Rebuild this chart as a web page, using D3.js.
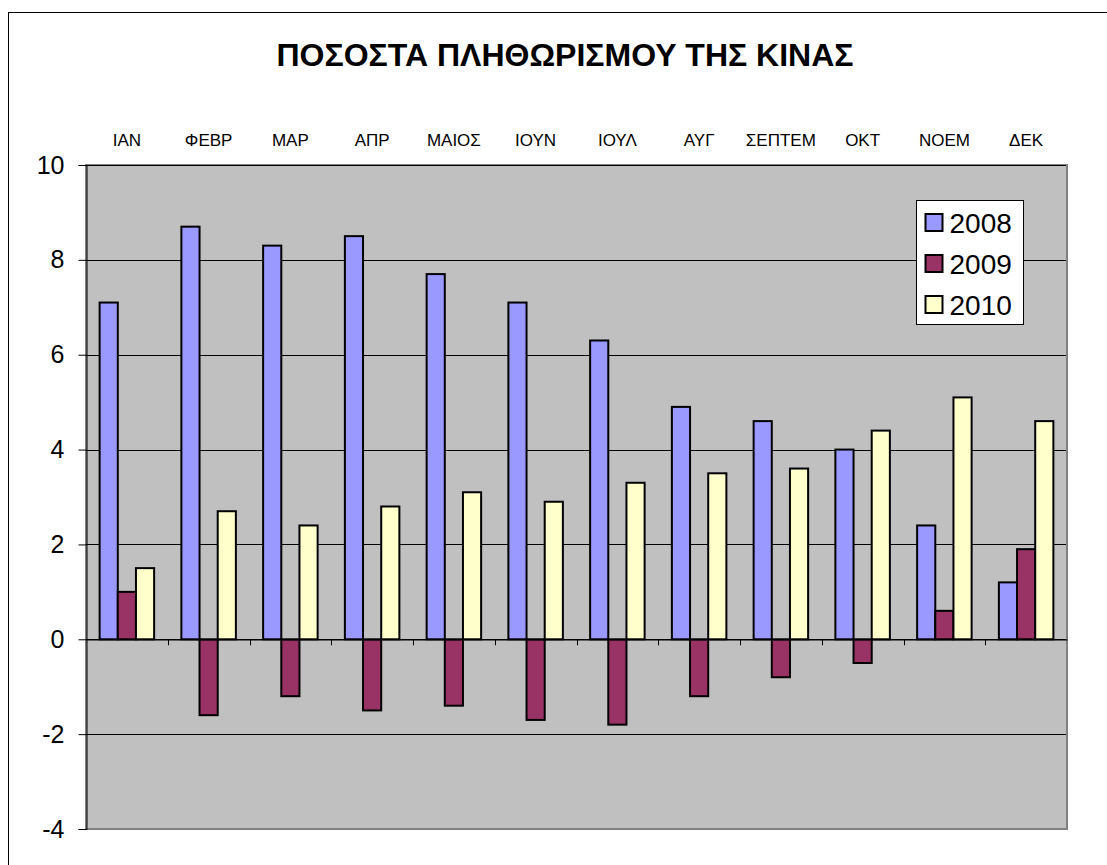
<!DOCTYPE html>
<html>
<head>
<meta charset="utf-8">
<script src="https://cdn.jsdelivr.net/npm/d3@7"></script>
<style>
body{margin:0;background:#fff;}
svg{display:block;font-family:Arial,"Liberation Sans",sans-serif;}
</style>
</head>
<body>
<svg width="1107" height="865"></svg>
<script>
var months = ['ΙΑΝ','ΦΕΒΡ','ΜΑΡ','ΑΠΡ','ΜΑΙΟΣ','ΙΟΥΝ','ΙΟΥΛ','ΑΥΓ','ΣΕΠΤΕΜ','ΟΚΤ','ΝΟΕΜ','ΔΕΚ'];
var years = ['2008','2009','2010'];
var v2008 = [7.1,8.7,8.3,8.5,7.7,7.1,6.3,4.9,4.6,4.0,2.4,1.2];
var v2009 = [1.0,-1.6,-1.2,-1.5,-1.4,-1.7,-1.8,-1.2,-0.8,-0.5,0.6,1.9];
var v2010 = [1.5,2.7,2.4,2.8,3.1,2.9,3.3,3.5,3.6,4.4,5.1,4.6];
var yTicks = [-4,-2,0,2,4,6,8,10];
var colors = ['#9999FF','#993366','#FFFFCC'];

var series = [v2008, v2009, v2010];
var svg = d3.select('svg');

// outer frame
svg.append('rect').attr('x',8.5).attr('y',12.5).attr('width',1120).attr('height',880)
  .attr('fill','#fff').attr('stroke','#000').attr('stroke-width',1);

var pLeft = 86, pRight = 1067, pTop = 165, pBottom = 829;

var x = d3.scaleBand().domain(months).range([pLeft,pRight]).paddingInner(0).paddingOuter(0);
var gapFrac = 1.5/(3+1.5);
var x1 = d3.scaleBand().domain(years).range([0,x.bandwidth()*(1-gapFrac)]);
var y = d3.scaleLinear().domain([-4,10]).range([pBottom,pTop]);

// plot area
svg.append('rect').attr('x',pLeft).attr('y',pTop).attr('width',pRight-pLeft).attr('height',pBottom-pTop)
  .attr('fill','#C0C0C0').attr('stroke','#808080').attr('stroke-width',2);

// gridlines
svg.append('g').selectAll('line').data(yTicks.filter(function(d){return d!==-4;})).enter().append('line')
  .attr('x1',pLeft).attr('x2',pRight-1).attr('y1',function(d){return Math.round(y(d))+0.5;}).attr('y2',function(d){return Math.round(y(d))+0.5;})
  .attr('stroke','#000').attr('stroke-width',1);

// y axis
var yAxis = svg.append('g').attr('transform','translate('+(pLeft+0.5)+',0)')
  .call(d3.axisLeft(y).tickValues(yTicks).tickSize(8).tickPadding(14).tickFormat(function(d){return String(d);}));
yAxis.select('.domain').attr('stroke','#000');
yAxis.selectAll('text').attr('font-size',25).attr('fill','#000').attr('font-family','Arial,"Liberation Sans",sans-serif');
yAxis.selectAll('.tick line').attr('stroke','#000');

// bars
var groups = svg.append('g').selectAll('g').data(months).enter().append('g')
  .attr('transform',function(d){return 'translate('+(x(d)+x.bandwidth()*gapFrac/2)+',0)';});
groups.selectAll('rect').data(function(d,i){return years.map(function(yr,j){return {yr:yr,v:series[j][i],c:colors[j]};});})
  .enter().append('rect')
  .attr('x',function(d){return x1(d.yr);})
  .attr('width',x1.bandwidth())
  .attr('y',function(d){return y(Math.max(0,d.v));})
  .attr('height',function(d){return Math.abs(y(d.v)-y(0));})
  .attr('fill',function(d){return d.c;})
  .attr('stroke','#000').attr('stroke-width',2);

// zero axis with ticks
var xAxis = svg.append('g').attr('transform','translate(0,'+(Math.round(y(0))+0.5)+')')
  .call(d3.axisBottom(x).tickSize(0).tickFormat(''));
xAxis.select('.domain').attr('stroke','#000');
svg.append('g').selectAll('line').data(months.slice(1)).enter().append('line')
  .attr('x1',function(d){return Math.round(x(d))+0.5;}).attr('x2',function(d){return Math.round(x(d))+0.5;})
  .attr('y1',y(0)).attr('y2',y(0)+6).attr('stroke','#000');

// month labels on top
svg.append('g').selectAll('text').data(months).enter().append('text')
  .attr('x',function(d){return x(d)+x.bandwidth()/2;}).attr('y',146)
  .attr('text-anchor','middle').attr('font-size',17).attr('fill','#000').text(function(d){return d;});

// title
svg.append('text').attr('x',565).attr('y',66).attr('text-anchor','middle')
  .attr('font-size',32).attr('font-weight','bold').text('ΠΟΣΟΣΤΑ ΠΛΗΘΩΡΙΣΜΟΥ ΤΗΣ ΚΙΝΑΣ');

// legend
var lg = svg.append('g').attr('transform','translate(916.5,200.5)');
lg.append('rect').attr('width',107).attr('height',124).attr('fill','#fff').attr('stroke','#000');
var items = lg.selectAll('g').data(years).enter().append('g')
  .attr('transform',function(d,i){return 'translate(9,'+(22+i*41)+')';});
items.append('rect').attr('x',0).attr('y',-8.5).attr('width',17).attr('height',17)
  .attr('fill',function(d,i){return colors[i];}).attr('stroke','#000').attr('stroke-width',2);
items.append('text').attr('x',24).attr('y',10).attr('font-size',28).text(function(d){return d;});
</script>
</body>
</html>
